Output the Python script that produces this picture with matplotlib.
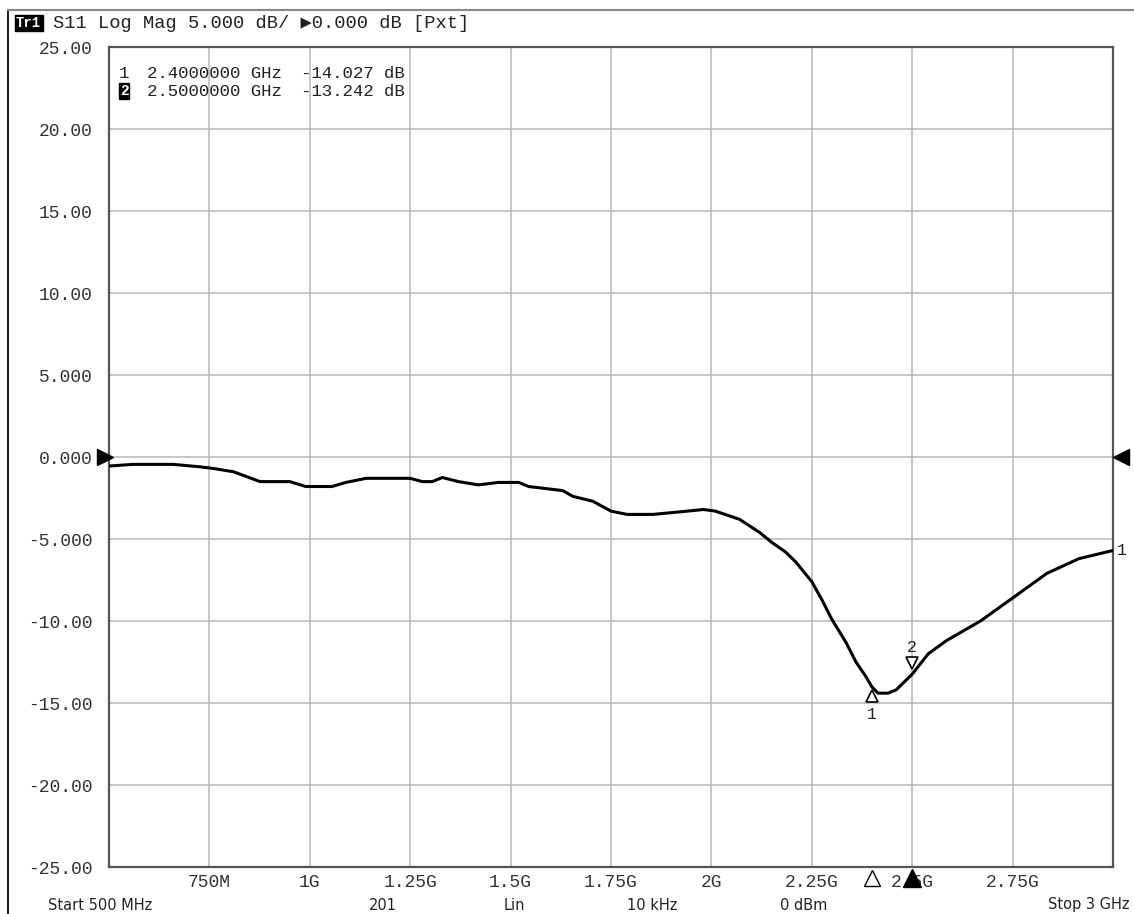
import numpy as np
import matplotlib.pyplot as plt
from matplotlib.transforms import offset_copy
from matplotlib.lines import Line2D

# S11 trace (GHz, dB)
freq_ghz = [0.500, 0.560, 0.660, 0.727, 0.760, 0.810, 0.876, 0.950, 0.990, 1.055,
            1.090, 1.140, 1.250, 1.280, 1.305, 1.330, 1.370, 1.420, 1.470, 1.520,
            1.545, 1.630, 1.655, 1.705, 1.750, 1.790, 1.855, 1.940, 1.980, 2.010,
            2.070, 2.120, 2.150, 2.185, 2.210, 2.250, 2.275, 2.300, 2.335, 2.360,
            2.385, 2.400, 2.415, 2.440, 2.460, 2.500, 2.540, 2.585, 2.670, 2.750,
            2.835, 2.915, 3.000]
s11_db = [-0.55, -0.45, -0.45, -0.60, -0.70, -0.90, -1.50, -1.50, -1.80, -1.80,
          -1.55, -1.30, -1.30, -1.50, -1.50, -1.25, -1.50, -1.70, -1.55, -1.55,
          -1.80, -2.05, -2.40, -2.70, -3.30, -3.50, -3.50, -3.30, -3.20, -3.30,
          -3.80, -4.60, -5.20, -5.80, -6.40, -7.60, -8.70, -9.90, -11.30, -12.50,
          -13.40, -14.03, -14.40, -14.40, -14.20, -13.24, -12.00, -11.20, -10.00, -8.60,
          -7.10, -6.20, -5.70]

marker_freq = [2.4, 2.5]
marker_db = [-14.027, -13.242]

xtick_vals = [0.75, 1.0, 1.25, 1.5, 1.75, 2.0, 2.25, 2.5, 2.75]
xtick_labels = ['750M', '1G', '1.25G', '1.5G', '1.75G', '2G', '2.25G', '2.5G', '2.75G']
ytick_vals = [25, 20, 15, 10, 5, 0, -5, -10, -15, -20, -25]
ytick_labels = ['25.00', '20.00', '15.00', '10.00', '5.000', '0.000',
                '-5.000', '-10.00', '-15.00', '-20.00', '-25.00']

mono = ['Liberation Mono', 'DejaVu Sans Mono', 'DejaVu Sans']
sans = ['DejaVu Sans']
plt.rcParams['font.family'] = mono

W, H = 1134, 914
fig = plt.figure(figsize=(W / 100, H / 100), dpi=100)


def fx(x):
    return x / W


def fy(y):
    return 1 - y / H


L, R, T, B = 109, 1113, 47, 867
ax = fig.add_axes([fx(L), fy(B), (R - L) / W, (B - T) / H])
ax.set_xlim(0.5, 3.0)
ax.set_ylim(-25, 25)
ax.set_xticks(xtick_vals)
ax.set_xticklabels(xtick_labels)
ax.set_yticks(ytick_vals)
ax.set_yticklabels(ytick_labels)
ax.tick_params(length=0, labelsize=13, colors='#333333')
ax.tick_params(axis='x', pad=5)
ax.tick_params(axis='y', pad=12)
ax.grid(True, color='#b8b8b8', lw=1.1)
for s in ax.spines.values():
    s.set_color('#555555')
    s.set_linewidth(1.6)

ax.plot(freq_ghz, s11_db, color='black', lw=2.2, zorder=4)

# markers on the trace
down = offset_copy(ax.transData, fig, x=0, y=-9, units='dots')
up = offset_copy(ax.transData, fig, x=0, y=11, units='dots')
ax.plot(marker_freq[0], marker_db[0], marker='^', ms=9, mfc='white', mec='black',
        mew=1.2, transform=down, zorder=6)
ax.plot(marker_freq[1], marker_db[1], marker='v', ms=9, mfc='white', mec='black',
        mew=1.2, transform=up, zorder=6)
ax.annotate('1', (marker_freq[0], marker_db[0]), xytext=(0, -27), textcoords='offset pixels',
            ha='center', va='center', fontsize=12, color='#222222')
ax.annotate('2', (marker_freq[1], marker_db[1]), xytext=(0, 27), textcoords='offset pixels',
            ha='center', va='center', fontsize=12, color='#222222')

# trace end label and reference arrows
ax.annotate('1', (freq_ghz[-1], s11_db[-1]), xytext=(4, 0), textcoords='offset pixels',
            ha='left', va='center', fontsize=12, color='#222222', annotation_clip=False)
yax = ax.get_yaxis_transform()
ax.plot(-0.004, 0, marker='>', ms=12, color='black', transform=yax, clip_on=False, zorder=7)
ax.plot(1.008, 0, marker='<', ms=12, color='black', transform=yax, clip_on=False, zorder=7)

# marker position indicators along the bottom
xax = ax.get_xaxis_transform()
ax.plot(marker_freq[0], -0.013, marker='^', ms=11, mfc='white', mec='black', mew=1.0,
        transform=xax, clip_on=False, zorder=7)
ax.plot(marker_freq[1], -0.013, marker='^', ms=13, color='black',
        transform=xax, clip_on=False, zorder=7)

# header line
fig.text(fx(16), fy(23), 'Tr1', fontsize=10, color='white', va='center', ha='left',
         fontweight='bold', bbox=dict(boxstyle='square,pad=0.1', fc='black', ec='black'))
fig.text(fx(53), fy(23), 'S11 Log Mag 5.000 dB/ \u25b60.000 dB [Pxt]', fontsize=13.5,
         color='#222222', va='center', ha='left')

# marker readout
row_y = [74, 91]
fig.text(fx(119), fy(row_y[0]), '1', fontsize=12.5, color='#222222', va='center', ha='left')
fig.text(fx(120), fy(row_y[1]), '2', fontsize=10.5, color='white', va='center', ha='left',
         fontweight='bold', bbox=dict(boxstyle='square,pad=0.05', fc='black', ec='black'))
for yy, f, d in zip(row_y, marker_freq, marker_db):
    fig.text(fx(147), fy(yy), '%.7f GHz' % f, fontsize=12.5, color='#222222', va='center', ha='left')
    fig.text(fx(301), fy(yy), '%.3f dB' % d, fontsize=12.5, color='#222222', va='center', ha='left')

# bottom status row
status = [(48, 'Start 500 MHz', 'left'), (383, '201', 'center'), (514, 'Lin', 'center'),
          (652, '10 kHz', 'center'), (804, '0 dBm', 'center'), (1129, 'Stop 3 GHz', 'right')]
for x, s, ha in status:
    fig.text(fx(x), fy(905), s, fontsize=10.5, family=sans, color='#222222', va='center', ha=ha)

# outer screen frame
fig.add_artist(Line2D([fx(8), fx(8)], [fy(10), 0], color='#222222', lw=1.5))
fig.add_artist(Line2D([fx(8), 1], [fy(10), fy(10)], color='#888888', lw=1.5))

fig.savefig('out.png', dpi=100)
